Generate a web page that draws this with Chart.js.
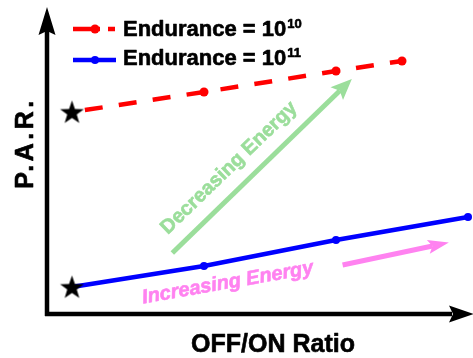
<!DOCTYPE html>
<html>
<head>
<meta charset="utf-8">
<script src="https://cdn.jsdelivr.net/npm/chart.js@4.4.1/dist/chart.umd.min.js"></script>
<style>
  html, body { margin: 0; padding: 0; background: #fff; }
  #wrap { width: 473px; height: 358px; }
</style>
</head>
<body>
<div id="wrap"><canvas id="c" width="473" height="358"></canvas></div>
<script>
// OFF/ON ratio positions (arbitrary units; the axis carries no tick labels)
const ratioE10 = [0, 1, 2, 2.5];
const ratioE11 = [0, 1, 2, 3];
// P.A.R. values (arbitrary units)
const parE10 = [202, 222, 243, 253];
const parE11 = [27, 48, 74, 97];
// legend text: base and exponent
const seriesBase = ['Endurance = 10', 'Endurance = 10'];
const seriesExp = ['10', '11'];
const axisTitleX = 'OFF/ON Ratio';
const axisTitleY = 'P.A.R.';
const noteDecrease = 'Decreasing Energy';
const noteIncrease = 'Increasing Energy';

const FONT = '"Liberation Sans", Arial, Helvetica, sans-serif';
const RED = '#ff0000';
const BLUE = '#0000ff';
const GREEN = 'rgb(155,222,155)';
const PINK = 'rgb(255,130,240)';

// filled five-point star used as the marker of each series' starting point
function makeStar(R) {
  const s = Math.ceil(R * 2 + 4);
  const cv = document.createElement('canvas');
  cv.width = s; cv.height = s;
  const g = cv.getContext('2d');
  g.translate(s / 2, s / 2 + 1);
  g.beginPath();
  for (let i = 0; i < 10; i++) {
    const r = i % 2 ? R * 0.4 : R;
    const a = -Math.PI / 2 + i * Math.PI / 5;
    g.lineTo(r * Math.cos(a), r * Math.sin(a));
  }
  g.closePath();
  g.fillStyle = '#000';
  g.fill();
  return cv;
}
const star = makeStar(12.5);

function toPoints(xs, ys) { return xs.map((x, i) => ({ x: x, y: ys[i] })); }

function arrow(ctx, x0, y0, x1, y1, color, width, headLen, headHalf) {
  const ang = Math.atan2(y1 - y0, x1 - x0);
  const bx = x1 - Math.cos(ang) * headLen * 0.8;
  const by = y1 - Math.sin(ang) * headLen * 0.8;
  ctx.save();
  ctx.strokeStyle = color; ctx.fillStyle = color;
  ctx.lineWidth = width; ctx.lineCap = 'butt';
  ctx.beginPath(); ctx.moveTo(x0, y0); ctx.lineTo(bx, by); ctx.stroke();
  ctx.translate(x1, y1); ctx.rotate(ang);
  ctx.beginPath();
  ctx.moveTo(0, 0);
  ctx.lineTo(-headLen, -headHalf);
  ctx.lineTo(-headLen * 0.8, 0);
  ctx.lineTo(-headLen, headHalf);
  ctx.closePath(); ctx.fill();
  ctx.restore();
}

// bold text drawn with a thin outline of the same colour for a heavier weight
function heavyText(ctx, text, x, y, color) {
  ctx.fillStyle = color; ctx.strokeStyle = color;
  ctx.lineWidth = 0.6; ctx.lineJoin = 'round';
  ctx.fillText(text, x, y);
  ctx.strokeText(text, x, y);
}

const decor = {
  id: 'decor',
  beforeDatasetsDraw(chart) {
    const { ctx, chartArea: a, scales: { x, y } } = chart;
    ctx.save();
    // axes with arrow heads
    ctx.strokeStyle = '#000'; ctx.fillStyle = '#000'; ctx.lineWidth = 4.5;
    ctx.beginPath(); ctx.moveTo(a.left, a.bottom + 2); ctx.lineTo(a.left, 30); ctx.stroke();
    ctx.beginPath();
    ctx.moveTo(a.left, 7); ctx.lineTo(a.left + 8.5, 35); ctx.lineTo(a.left, 31); ctx.lineTo(a.left - 8.5, 35);
    ctx.closePath(); ctx.fill();
    ctx.beginPath(); ctx.moveTo(a.left - 2, a.bottom); ctx.lineTo(452, a.bottom); ctx.stroke();
    ctx.beginPath();
    ctx.moveTo(474, a.bottom); ctx.lineTo(449, a.bottom - 8.5); ctx.lineTo(453, a.bottom); ctx.lineTo(449, a.bottom + 8.5);
    ctx.closePath(); ctx.fill();

    // axis titles
    ctx.font = 'bold 25px ' + FONT;
    ctx.textAlign = 'center'; ctx.textBaseline = 'alphabetic';
    heavyText(ctx, axisTitleX, 273, 352, '#000');
    ctx.save();
    ctx.translate(33, 145); ctx.rotate(-Math.PI / 2);
    if ('letterSpacing' in ctx) ctx.letterSpacing = '3.5px';
    heavyText(ctx, axisTitleY, 2, 0, '#000');
    ctx.restore();

    // trend arrows and notes
    arrow(ctx, x.getPixelForValue(0.76), y.getPixelForValue(61),
          x.getPixelForValue(2.12), y.getPixelForValue(235), GREEN, 5, 21, 9);
    arrow(ctx, x.getPixelForValue(2.05), y.getPixelForValue(49),
          x.getPixelForValue(2.855), y.getPixelForValue(71.5), PINK, 5, 21, 7);

    ctx.textAlign = 'center'; ctx.textBaseline = 'middle';
    ctx.save();
    ctx.translate(x.getPixelForValue(1.19), y.getPixelForValue(146));
    ctx.rotate(-44 * Math.PI / 180);
    ctx.font = 'bold 20px ' + FONT;
    heavyText(ctx, noteDecrease, 0, 0, GREEN);
    ctx.restore();
    ctx.save();
    ctx.translate(x.getPixelForValue(1.18), y.getPixelForValue(31));
    ctx.rotate(-10 * Math.PI / 180);
    ctx.font = 'italic bold 20px ' + FONT;
    heavyText(ctx, noteIncrease, 0, 0, PINK);
    ctx.restore();
    ctx.restore();
  },
  afterDatasetsDraw(chart) {
    const { ctx } = chart;
    ctx.save();
    // legend: red dashed entry
    ctx.lineWidth = 4.5; ctx.strokeStyle = RED; ctx.fillStyle = RED;
    ctx.beginPath(); ctx.moveTo(73, 29); ctx.lineTo(100, 29); ctx.moveTo(108, 29); ctx.lineTo(115, 29); ctx.stroke();
    ctx.beginPath(); ctx.arc(95, 29, 4.5, 0, Math.PI * 2); ctx.fill();
    // legend: blue solid entry
    ctx.strokeStyle = BLUE; ctx.fillStyle = BLUE;
    ctx.beginPath(); ctx.moveTo(73, 60); ctx.lineTo(116, 60); ctx.stroke();
    ctx.beginPath(); ctx.arc(95, 60, 4, 0, Math.PI * 2); ctx.fill();

    ctx.textAlign = 'left'; ctx.textBaseline = 'alphabetic';
    const baselines = [36, 65];
    seriesBase.forEach((t, i) => {
      ctx.font = 'bold 22px ' + FONT;
      heavyText(ctx, t, 123, baselines[i], '#000');
      const w = ctx.measureText(t).width;
      ctx.font = 'bold 13px ' + FONT;
      heavyText(ctx, seriesExp[i], 123 + w + 1, baselines[i] - 8, '#000');
    });
    ctx.restore();
  }
};

new Chart(document.getElementById('c'), {
  type: 'line',
  data: {
    datasets: [
      {
        label: seriesBase[0] + seriesExp[0],
        data: toPoints(ratioE10, parE10),
        borderColor: RED,
        borderWidth: 4.5,
        borderDash: [18, 16.3],
        borderDashOffset: -13,
        pointStyle: [star, 'circle', 'circle', 'circle'],
        pointRadius: [12, 4.5, 4.5, 4.5],
        pointBackgroundColor: RED,
        pointBorderWidth: 0,
        tension: 0,
        fill: false
      },
      {
        label: seriesBase[1] + seriesExp[1],
        data: toPoints(ratioE11, parE11),
        borderColor: BLUE,
        borderWidth: 4.5,
        pointStyle: [star, 'circle', 'circle', 'circle'],
        pointRadius: [12, 4, 4, 4],
        pointBackgroundColor: BLUE,
        pointBorderWidth: 0,
        tension: 0,
        fill: false
      }
    ]
  },
  options: {
    responsive: false,
    animation: false,
    devicePixelRatio: 1,
    layout: { autoPadding: false, padding: { left: 47, top: 8, right: 0, bottom: 44 } },
    scales: {
      x: { type: 'linear', display: false, min: -25 / 132, max: 401 / 132 },
      y: { type: 'linear', display: false, min: 0, max: 306 }
    },
    plugins: { legend: { display: false }, tooltip: { enabled: false } }
  },
  plugins: [decor]
});
</script>
</body>
</html>
